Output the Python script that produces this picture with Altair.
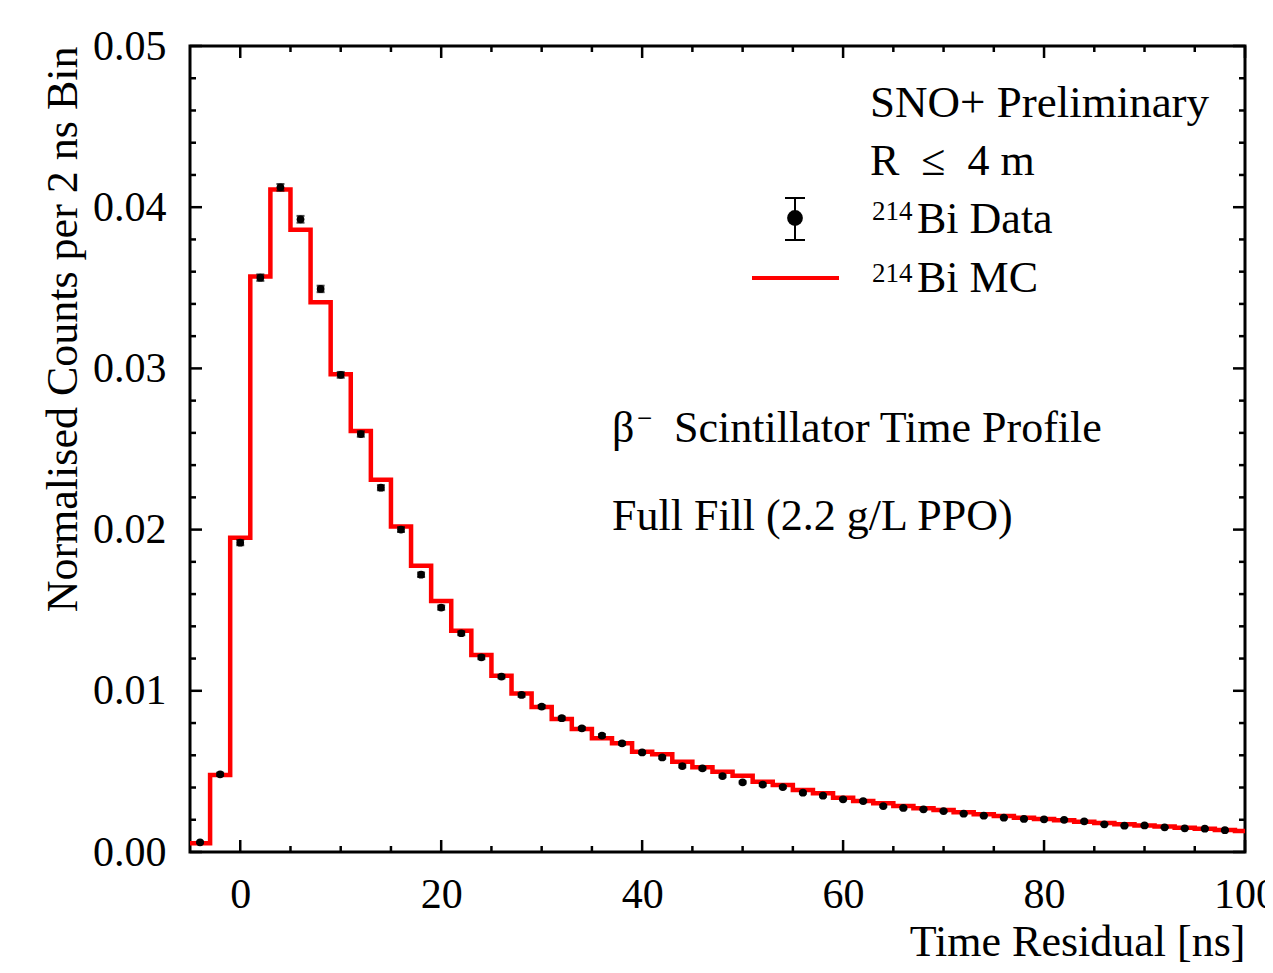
import altair as alt
import pandas as pd

# ---- data ----
centers = [-4, -2, 0, 2, 4, 6, 8, 10, 12, 14, 16, 18, 20, 22, 24, 26, 28, 30,
           32, 34, 36, 38, 40, 42, 44, 46, 48, 50, 52, 54, 56, 58, 60, 62, 64,
           66, 68, 70, 72, 74, 76, 78, 80, 82, 84, 86, 88, 90, 92, 94, 96, 98]
data_vals = [0.00060, 0.00482, 0.01919, 0.03563, 0.04123, 0.03925, 0.03493,
             0.02960, 0.02593, 0.02260, 0.02000, 0.01720, 0.01516, 0.01357,
             0.01208, 0.01088, 0.00974, 0.00902, 0.00830, 0.00767, 0.00722,
             0.00674, 0.00618, 0.00587, 0.00533, 0.00519, 0.00471, 0.00432,
             0.00418, 0.00403, 0.00368, 0.00349, 0.00327, 0.00316, 0.00285,
             0.00273, 0.00265, 0.00254, 0.00238, 0.00225, 0.00213, 0.00205,
             0.00203, 0.00200, 0.00190, 0.00172, 0.00163, 0.00165, 0.00153,
             0.00147, 0.00145, 0.00135]
data_errs = [0.00005, 0.00010, 0.00016, 0.00020, 0.00021, 0.00021, 0.00020,
             0.00018, 0.00017, 0.00016, 0.00015, 0.00014, 0.00013, 0.00012,
             0.00012, 0.00011, 0.00011, 0.00010, 0.00010, 0.00009, 0.00009,
             0.00009, 0.00008, 0.00008, 0.00008, 0.00008, 0.00007, 0.00007,
             0.00007, 0.00007, 0.00006, 0.00006, 0.00006, 0.00006, 0.00006,
             0.00006, 0.00005, 0.00005, 0.00005, 0.00005, 0.00005, 0.00005,
             0.00005, 0.00005, 0.00005, 0.00004, 0.00004, 0.00004, 0.00004,
             0.00004, 0.00004, 0.00004]

mc_edges = [-5, -3, -1, 1, 3, 5, 7, 9, 11, 13, 15, 17, 19, 21, 23, 25, 27, 29,
            31, 33, 35, 37, 39, 41, 43, 45, 47, 49, 51, 53, 55, 57, 59, 61, 63,
            65, 67, 69, 71, 73, 75, 77, 79, 81, 83, 85, 87, 89, 91, 93, 95, 97,
            99, 101]
mc_vals = [0.00054, 0.00478, 0.01950, 0.03570, 0.04110, 0.03860, 0.03410,
           0.02963, 0.02612, 0.02310, 0.02020, 0.01776, 0.01557, 0.01373,
           0.01222, 0.01094, 0.00984, 0.00900, 0.00825, 0.00763, 0.00705,
           0.00674, 0.00622, 0.00606, 0.00560, 0.00525, 0.00498, 0.00473,
           0.00436, 0.00416, 0.00385, 0.00364, 0.00337, 0.00316, 0.00302,
           0.00285, 0.00271, 0.00260, 0.00246, 0.00234, 0.00224, 0.00213,
           0.00205, 0.00197, 0.00188, 0.00180, 0.00172, 0.00165, 0.00158,
           0.00151, 0.00144, 0.00137, 0.00130]

x_major = [0, 20, 40, 60, 80, 100]
x_minor = [5, 10, 15, 25, 30, 35, 45, 50, 55, 65, 70, 75, 85, 90, 95]
y_major = [0.0, 0.01, 0.02, 0.03, 0.04, 0.05]
y_minor = [0.002, 0.004, 0.006, 0.008, 0.012, 0.014, 0.016, 0.018, 0.022,
           0.024, 0.026, 0.028, 0.032, 0.034, 0.036, 0.038, 0.042, 0.044,
           0.046, 0.048]

FONT = "Liberation Serif"
W, H = 1055, 806

df = pd.DataFrame({"t": centers, "v": data_vals, "e": data_errs})
df["lo"] = df["v"] - df["e"]
df["hi"] = df["v"] + df["e"]
mc = pd.DataFrame({"t": mc_edges, "v": mc_vals + [mc_vals[-1]]})

xs = alt.Scale(domain=[-5, 100], nice=False, zero=False)
ys = alt.Scale(domain=[0, 0.05], nice=False, zero=True)

x_axis = alt.Axis(values=x_major, format="d", title="Time Residual [ns]",
                  labelFlush=False, labelPadding=22, titleAnchor="end",
                  titleAlign="right", titleBaseline="alphabetic",
                  titleX=W, titleY=103)
y_axis = alt.Axis(values=y_major, format=".2f",
                  title="Normalised Counts per 2 ns Bin", labelPadding=24,
                  titleAlign="right", titleBaseline="alphabetic",
                  titleAngle=270, titleX=-114, titleY=0)

mc_line = alt.Chart(mc).mark_line(interpolate="step-after", color="#ff0000",
                                  strokeWidth=4.5, clip=True).encode(
    x=alt.X("t:Q", scale=xs, axis=x_axis),
    y=alt.Y("v:Q", scale=ys, axis=y_axis),
)

err = alt.Chart(df).mark_rule(color="black", strokeWidth=2).encode(
    x=alt.X("t:Q", scale=xs), y=alt.Y("lo:Q", scale=ys), y2="hi:Q")
cap_lo = alt.Chart(df).mark_tick(color="black", orient="horizontal",
                                 size=8, thickness=2).encode(
    x=alt.X("t:Q", scale=xs), y=alt.Y("lo:Q", scale=ys))
cap_hi = alt.Chart(df).mark_tick(color="black", orient="horizontal",
                                 size=8, thickness=2).encode(
    x=alt.X("t:Q", scale=xs), y=alt.Y("hi:Q", scale=ys))
pts = alt.Chart(df).mark_point(filled=True, color="black", size=60,
                               opacity=1).encode(
    x=alt.X("t:Q", scale=xs), y=alt.Y("v:Q", scale=ys))


def xticks(vals, length):
    d = pd.DataFrame({"t": vals})
    b = alt.Chart(d).mark_rule(color="black", strokeWidth=2.5).encode(
        x=alt.X("t:Q", scale=xs), y=alt.value(H), y2=alt.value(H - length))
    t = alt.Chart(d).mark_rule(color="black", strokeWidth=2.5).encode(
        x=alt.X("t:Q", scale=xs), y=alt.value(0), y2=alt.value(length))
    return [b, t]


def yticks(vals, length):
    d = pd.DataFrame({"v": vals})
    l = alt.Chart(d).mark_rule(color="black", strokeWidth=2.5).encode(
        y=alt.Y("v:Q", scale=ys), x=alt.value(0), x2=alt.value(length))
    r = alt.Chart(d).mark_rule(color="black", strokeWidth=2.5).encode(
        y=alt.Y("v:Q", scale=ys), x=alt.value(W), x2=alt.value(W - length))
    return [l, r]


tick_layers = (xticks(x_major, 12) + xticks(x_minor, 6)
               + yticks(y_major, 12) + yticks(y_minor, 6))

one = pd.DataFrame({"a": [0]})


def txt(s, x, y, size=44, align="left", baseline="alphabetic"):
    return alt.Chart(one).mark_text(text=s, font=FONT, fontSize=size,
                                    align=align, baseline=baseline,
                                    color="black").encode(
        x=alt.value(x), y=alt.value(y))


annots = [
    txt("SNO+ Preliminary", 680, 71, size=45),
    txt("R\u00a0\u00a0\u2264\u00a0\u00a04 m", 680, 129),
    txt("214", 682, 174, size=27),
    txt("Bi Data", 727, 187),
    txt("214", 682, 236, size=27),
    txt("Bi MC", 727, 246),
    txt("\u03b2", 422, 396),
    txt("\u2212", 447, 381, size=27),
    txt("Scintillator Time Profile", 484, 396),
    txt("Full Fill (2.2 g/L PPO)", 422, 484),
]

leg_err = alt.Chart(one).mark_rule(color="black", strokeWidth=2).encode(
    x=alt.value(605), y=alt.value(152), y2=alt.value(194))
leg_cap1 = alt.Chart(one).mark_rule(color="black", strokeWidth=2).encode(
    x=alt.value(595), x2=alt.value(615), y=alt.value(152))
leg_cap2 = alt.Chart(one).mark_rule(color="black", strokeWidth=2).encode(
    x=alt.value(595), x2=alt.value(615), y=alt.value(194))
leg_pt = alt.Chart(one).mark_point(filled=True, color="black", size=250,
                                   opacity=1).encode(
    x=alt.value(605), y=alt.value(172))
leg_line = alt.Chart(one).mark_rule(color="#ff0000", strokeWidth=4).encode(
    x=alt.value(562), x2=alt.value(649), y=alt.value(232))

chart = alt.layer(
    mc_line, err, cap_lo, cap_hi, pts, *tick_layers, *annots,
    leg_err, leg_cap1, leg_cap2, leg_pt, leg_line,
).properties(
    width=W, height=H,
    autosize=alt.AutoSizeParams(type="none"),
    padding={"left": 182, "top": 38, "right": 20, "bottom": 113},
    background="white",
).configure_view(
    stroke="black", strokeWidth=3,
).configure_axis(
    grid=False, ticks=False, domain=False,
    labelFont=FONT, labelFontSize=42, labelColor="black",
    titleFont=FONT, titleFontSize=44, titleColor="black",
    titleFontWeight="normal",
)

chart.save("out.html", embed_options={"renderer": "svg", "actions": False})
